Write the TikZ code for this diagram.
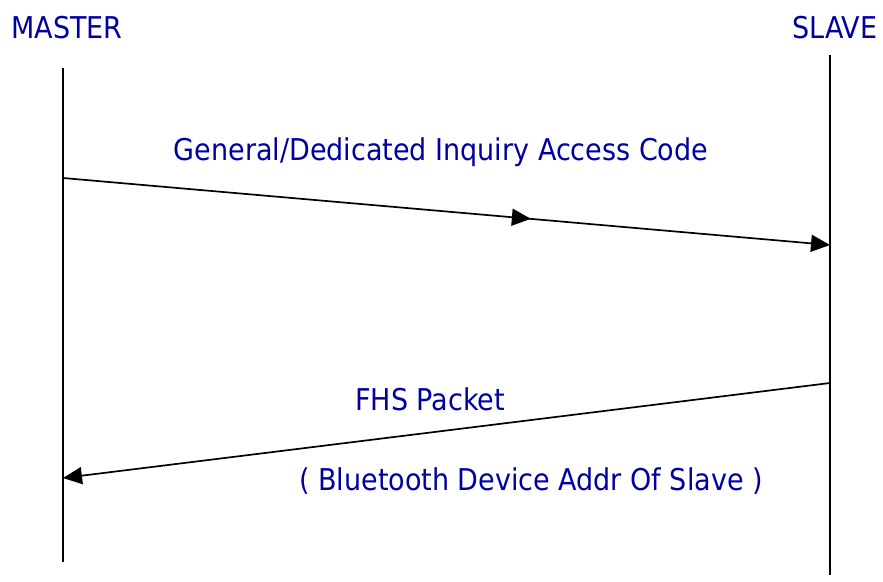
\documentclass[tikz,border=0pt]{standalone}
\usepackage{fontspec}
\setmainfont{DejaVu Sans Condensed}
\usetikzlibrary{arrows.meta,decorations.markings}
\definecolor{labelblue}{RGB}{0,0,160}
\tikzset{
  lifeline/.style={line width=1.8pt, black},
  msg/.style={line width=1.7pt, black, -{Triangle[length=19pt,width=17pt]}},
  midarrow/.style={postaction={decorate}, decoration={markings,
    mark=at position #1 with {\arrow{Triangle[length=19pt,width=17pt]}}}},
  actor/.style={text=labelblue, font=\fontsize{30}{34}\selectfont, inner sep=0pt},
  msglabel/.style={text=labelblue, font=\fontsize{30}{34}\selectfont, inner sep=0pt}
}
\begin{document}
\begin{tikzpicture}[x=1pt,y=-1pt]
  \useasboundingbox (0,0) rectangle (883,581);
  % participants
  \node[actor] (master) at (67,28) {MASTER};
  \node[actor] (slave) at (835,28) {SLAVE};
  % lifelines
  \coordinate (mtop) at (63,68);
  \coordinate (mbot) at (63,562);
  \coordinate (stop) at (830,55);
  \coordinate (sbot) at (830,575);
  \draw[lifeline] (mtop) -- (mbot);
  \draw[lifeline] (stop) -- (sbot);
  % inquiry message
  \coordinate (inqA) at (63,178);
  \coordinate (inqB) at (830,245);
  \draw[msg, midarrow=0.61] (inqA) -- (inqB);
  \node[msglabel] (inqlbl) at (441,152) {General/Dedicated Inquiry Access Code};
  % FHS response
  \coordinate (fhsA) at (830,383);
  \coordinate (fhsB) at (63,478);
  \draw[msg] (fhsA) -- (fhsB);
  \node[msglabel] (fhslbl) at (430,399) {FHS Packet};
  \node[msglabel] (addrlbl) at (531,481) {( Bluetooth Device Addr Of Slave )};
\end{tikzpicture}
\end{document}
